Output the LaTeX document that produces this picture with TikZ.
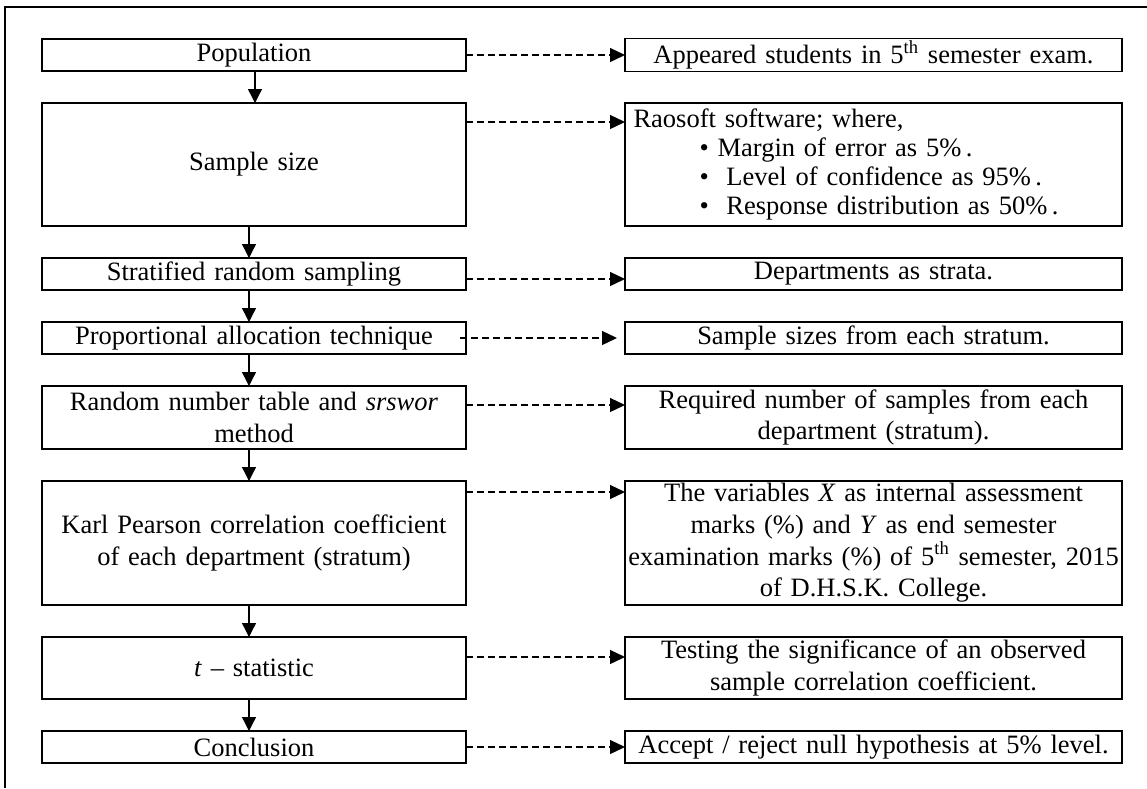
\documentclass[tikz,border=0pt]{standalone}
\usepackage{fontspec}
\setmainfont{Liberation Serif}
\usepackage{tikz}
\usetikzlibrary{positioning}
\usetikzlibrary{calc,arrows.meta}

\begin{document}
\begin{tikzpicture}[
x=0.5pt, y=-0.5pt,
font=\fontsize{13.25pt}{15.85pt}\selectfont,
leftbox/.style={rectangle, draw=black, line width=0.7pt, outer sep=0pt, minimum width=212pt, text width=206pt, align=center, inner xsep=3pt, inner ysep=1pt},
rightbox/.style={rectangle, draw=black, line width=0.7pt, outer sep=0pt, minimum width=248.5pt, text width=246pt, align=center, inner xsep=1.25pt, inner ysep=1pt},
downarrow/.style={line width=0.65pt, -{Triangle[length=7pt, width=7pt]}},
dasharrow/.style={line width=0.65pt, dash pattern=on 3.3pt off 2.2pt, -{Triangle[length=7.5pt, width=7pt]}},
node distance=16pt and 79.5pt
]
\useasboundingbox (0,0) rectangle (1147,788);
%Frame
\draw[line width=0.7pt] (1147,7) -- (5,7) -- (5,788);
%Nodes
\node[leftbox][minimum height=16pt] (Pop) at (254,55) {Population};
\node[leftbox][minimum height=61.5pt] (Size) [below=of Pop] {Sample size};
\node[leftbox][minimum height=16pt] (Strat) [below=of Size] {Stratified random sampling};
\node[leftbox][minimum height=16pt] (Alloc) [below=of Strat] {Proportional allocation technique};
\node[leftbox][minimum height=31.5pt] (Rand) [below=of Alloc] {Random number table and \textit{srswor}\\method};
\node[leftbox][minimum height=62pt] (Corr) [below=of Rand] {Karl Pearson correlation coefficient\\of each department (stratum)};
\node[leftbox][minimum height=31pt] (Tstat) [below=of Corr] {\textit{t} -- statistic};
\node[leftbox][minimum height=16pt] (Concl) [below=of Tstat] {Conclusion};
%Right column
\node[rightbox][minimum height=16pt] (PopR) [right=of Pop] {Appeared students in 5\textsuperscript{th} semester exam.};
\node[rightbox][minimum height=61.5pt, align=left, font=\fontsize{13.25pt}{14.5pt}\selectfont] (SizeR) [right=of Size] {\hspace*{3pt}Raosoft software; where,\\
\hspace*{36pt}\textbullet\ Margin of error as 5\%\,.\\
\hspace*{36pt}\textbullet\ \ Level of confidence as 95\%\,.\\
\hspace*{36pt}\textbullet\ \ Response distribution as 50\%\,.};
\node[rightbox][minimum height=16pt] (StratR) [right=of Strat] {Departments as strata.};
\node[rightbox][minimum height=16pt] (AllocR) [right=of Alloc] {Sample sizes from each stratum.};
\node[rightbox][minimum height=31.5pt] (RandR) [right=of Rand] {Required number of samples from each\\department (stratum).};
\node[rightbox][minimum height=62pt] (CorrR) [right=of Corr] {The variables \textit{X} as internal assessment\\marks (\%) and \textit{Y} as end semester\\examination marks (\%) of 5\textsuperscript{th} semester, 2015\\of D.H.S.K. College.};
\node[rightbox][minimum height=31pt] (TstatR) [right=of Tstat] {Testing the significance of an observed\\sample correlation coefficient.};
\node[rightbox][minimum height=16pt] (ConclR) [right=of Concl] {Accept / reject null hypothesis at 5\% level.};
%Lines
\draw[downarrow] ([xshift=0.5pt]Pop.south) -- ([xshift=0.5pt]Size.north);
\foreach \a/\b in {Size/Strat, Strat/Alloc, Alloc/Rand, Rand/Corr, Corr/Tstat, Tstat/Concl}
  \draw[downarrow] ([xshift=-2.5pt]\a.south) -- ([xshift=-2.5pt]\b.north);
\draw[dasharrow] (Pop.east) -- (PopR.west);
\draw[dasharrow] ([yshift=-2.5pt]Strat.east) -- ([yshift=-2.5pt]StratR.west);
\draw[dasharrow] ([xshift=-3pt]Alloc.east) -- ([xshift=-4pt]AllocR.west);
\draw[dasharrow] (Concl.east) -- (ConclR.west);
\foreach \l/\r/\s in {Size/SizeR/9.5pt, Rand/RandR/9.5pt, Corr/CorrR/5.5pt, Tstat/TstatR/10pt}
  \draw[dasharrow] ([yshift=-\s]\l.north east) -- ([yshift=-\s]\r.north west);
\end{tikzpicture}
\end{document}
